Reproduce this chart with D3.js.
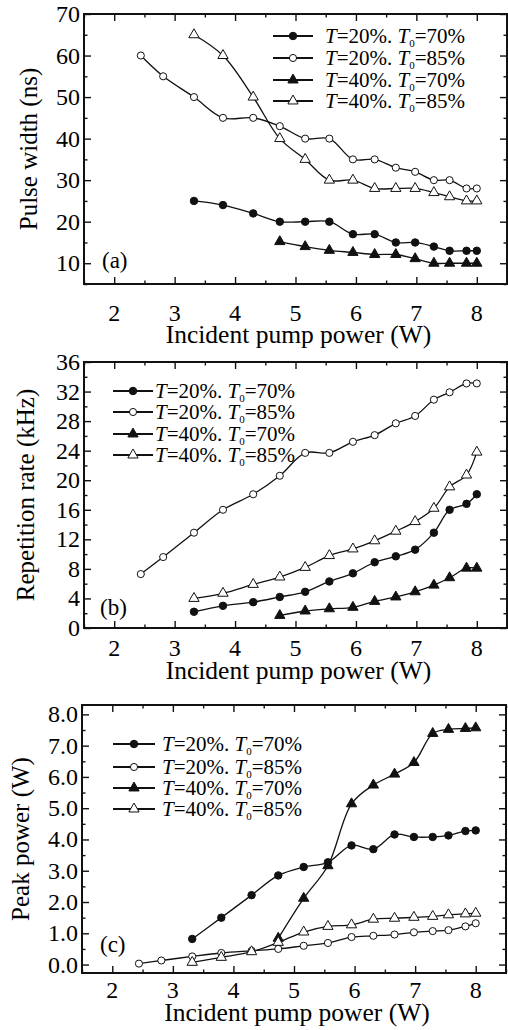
<!DOCTYPE html>
<html>
<head>
<meta charset="utf-8">
<script src="https://cdn.jsdelivr.net/npm/d3@7"></script>
</head>
<body style="margin:0">
<div id="chart"></div>
<script>
// pump power values shared by all panels (W)
const pumpPower = [2.44, 2.81, 3.32, 3.80, 4.30, 4.74, 5.16, 5.56, 5.95, 6.31, 6.66, 6.98, 7.29, 7.55, 7.83, 8.00];
const xTicks = [2, 3, 4, 5, 6, 7, 8];
const xMinor = [1.5, 2.5, 3.5, 4.5, 5.5, 6.5, 7.5, 8.5];

// series legend names: [T, T0]
const seriesNames = [["20", "70"], ["20", "85"], ["40", "70"], ["40", "85"]];
// first index into pumpPower for each series
const seriesStart = [2, 0, 5, 2];

// (a) pulse width (ns)
const pulseT20T70 = [25, 24, 22, 20, 20, 20, 17, 17, 15, 15, 14, 13, 13, 13];
const pulseT20T85 = [60, 55, 50, 45, 45, 43, 40, 40, 35, 35, 33, 32, 30, 30, 28, 28];
const pulseT40T70 = [15.2, 14, 13.1, 12.6, 12.1, 12.1, 11.1, 10, 10, 10, 10];
const pulseT40T85 = [65, 60, 50, 40, 35, 30, 30, 28, 28, 28, 27, 26, 25, 25];
const pulseTicks = [10, 20, 30, 40, 50, 60, 70];

// (b) repetition rate (kHz)
const repT20T70 = [2.2, 3.0, 3.5, 4.2, 4.9, 6.3, 7.4, 8.9, 9.7, 10.6, 12.9, 16.0, 16.8, 18.1];
const repT20T85 = [7.3, 9.6, 12.9, 16.0, 18.1, 20.6, 23.7, 23.7, 25.2, 26.1, 27.7, 28.7, 30.9, 31.9, 33.1, 33.1];
const repT40T70 = [1.7, 2.3, 2.6, 2.8, 3.6, 4.2, 4.9, 5.8, 6.8, 8.1, 8.1];
const repT40T85 = [4.0, 4.7, 5.9, 6.9, 8.2, 9.8, 10.7, 11.8, 13.1, 14.4, 16.2, 19.1, 20.7, 23.8];
const repTicks = [0, 4, 8, 12, 16, 20, 24, 28, 32, 36];

// (c) peak power (W)
const peakT20T70 = [0.82, 1.50, 2.22, 2.85, 3.12, 3.27, 3.81, 3.69, 4.16, 4.08, 4.08, 4.13, 4.27, 4.29];
const peakT20T85 = [0.03, 0.13, 0.26, 0.37, 0.44, 0.50, 0.60, 0.69, 0.88, 0.92, 0.96, 1.03, 1.07, 1.10, 1.22, 1.32];
const peakT40T70 = [0.84, 2.12, 3.16, 5.14, 5.74, 6.09, 6.46, 7.39, 7.52, 7.55, 7.57];
const peakT40T85 = [0.07, 0.23, 0.41, 0.71, 1.04, 1.22, 1.27, 1.45, 1.48, 1.51, 1.54, 1.59, 1.62, 1.64];
const peakTicks = [0, 1, 2, 3, 4, 5, 6, 7, 8];

const FONT = "Liberation Serif";

const svg = d3.select("#chart").append("svg")
  .attr("width", 508)
  .attr("height", 1030);

const panels = [
  {
    box: { left: 84, right: 507, top: 14, bottom: 284 },
    yDomain: [5, 70], yTicks: pulseTicks, yMinorStep: 5, yFormat: d3.format("d"),
    series: [pulseT20T70, pulseT20T85, pulseT40T70, pulseT40T85],
    yTitle: "Pulse width (ns)", yTitleX: 37,
    labelY: 321, xTitleY: 343,
    tag: "(a)", tagPos: [102, 268],
    legend: { x0: 273, x1: 313, tx: 325, rows: [36, 58, 80, 101] }
  },
  {
    box: { left: 84, right: 507, top: 362, bottom: 628 },
    yDomain: [0, 36], yTicks: repTicks, yMinorStep: 2, yFormat: d3.format("d"),
    series: [repT20T70, repT20T85, repT40T70, repT40T85],
    yTitle: "Repetition rate (kHz)", yTitleX: 34,
    labelY: 656, xTitleY: 679,
    tag: "(b)", tagPos: [100, 615],
    legend: { x0: 113, x1: 153, tx: 155, rows: [391, 412, 434, 455] }
  },
  {
    box: { left: 82, right: 506, top: 705, bottom: 973 },
    yDomain: [-0.27, 8.3], yTicks: peakTicks, yMinorStep: 0.5, yFormat: d3.format(".1f"),
    series: [peakT20T70, peakT20T85, peakT40T70, peakT40T85],
    yTitle: "Peak power (W)", yTitleX: 29,
    labelY: 998, xTitleY: 1021,
    tag: "(c)", tagPos: [100, 952],
    legend: { x0: 113, x1: 155, tx: 162, rows: [744, 767, 788, 809] }
  }
];

// marker style per series: filled circle, open circle, filled triangle, open triangle
const markerType = [d3.symbolCircle, d3.symbolCircle, d3.symbolTriangle, d3.symbolTriangle];
const markerSize = [44, 40, 46, 46];
const markerFill = ["#111", "#fff", "#111", "#fff"];

function drawMarker(g, i, x, y) {
  g.append("path")
    .attr("transform", `translate(${x},${y})`)
    .attr("d", d3.symbol().type(markerType[i]).size(markerSize[i])())
    .attr("fill", markerFill[i])
    .attr("stroke", "#111")
    .attr("stroke-width", 1);
}

// plain text helper, family set inline on each element
function addText(x, y, str, size, anchor) {
  return svg.append("text")
    .attr("x", x).attr("y", y)
    .attr("font-size", size)
    .attr("text-anchor", anchor || "start")
    .style("font-family", FONT)
    .text(str);
}

function drawPanel(p) {
  const b = p.box;
  const x = d3.scaleLinear().domain([1.5, 8.5]).range([b.left, b.right]);
  const y = d3.scaleLinear().domain(p.yDomain).range([b.bottom, b.top]);
  const g = svg.append("g");

  const yMinor = d3.range(Math.ceil(p.yDomain[0] / p.yMinorStep) * p.yMinorStep, p.yDomain[1] + 1e-9, p.yMinorStep)
    .filter(v => !p.yTicks.some(t => Math.abs(t - v) < 1e-9));

  // tick marks on all four sides, pointing inward (labels drawn separately)
  const axes = [
    [d3.axisBottom(x).tickValues(xTicks).tickSize(-7), `translate(0,${b.bottom})`],
    [d3.axisBottom(x).tickValues(xMinor).tickSize(-3.5), `translate(0,${b.bottom})`],
    [d3.axisTop(x).tickValues(xTicks).tickSize(-7), `translate(0,${b.top})`],
    [d3.axisTop(x).tickValues(xMinor).tickSize(-3.5), `translate(0,${b.top})`],
    [d3.axisLeft(y).tickValues(p.yTicks).tickSize(-7), `translate(${b.left},0)`],
    [d3.axisLeft(y).tickValues(yMinor).tickSize(-3.5), `translate(${b.left},0)`],
    [d3.axisRight(y).tickValues(p.yTicks).tickSize(-7), `translate(${b.right},0)`],
    [d3.axisRight(y).tickValues(yMinor).tickSize(-3.5), `translate(${b.right},0)`]
  ];
  axes.forEach(([ax, tr]) => {
    const a = g.append("g").attr("transform", tr).call(ax.tickFormat(""));
    a.attr("font-family", null).attr("font-size", null);
    a.select(".domain").remove();
    a.selectAll("text").remove();
    a.selectAll("line").attr("stroke", "#111").attr("stroke-width", 1.4);
  });

  // tick labels
  xTicks.forEach(v => addText(x(v), p.labelY, d3.format("d")(v), 24, "middle"));
  p.yTicks.forEach(v => addText(b.left - 4, y(v) + 8, p.yFormat(v), 24, "end"));

  // frame
  g.append("rect")
    .attr("x", b.left).attr("y", b.top)
    .attr("width", b.right - b.left).attr("height", b.bottom - b.top)
    .attr("fill", "none").attr("stroke", "#111").attr("stroke-width", 2);

  // axis titles
  addText((b.left + b.right) / 2 + 3, p.xTitleY, "Incident pump power (W)", 25.5, "middle");
  addText(0, 0, p.yTitle, 25, "middle")
    .attr("x", null).attr("y", null)
    .attr("transform", `translate(${p.yTitleX},${(b.top + b.bottom) / 2}) rotate(-90)`);

  addText(p.tagPos[0], p.tagPos[1], p.tag, 23);

  // curves + markers
  const line = d3.line()
    .x(d => x(d[0]))
    .y(d => y(d[1]))
    .curve(d3.curveCatmullRom.alpha(0.5));

  p.series.forEach((vals, i) => {
    const pts = vals.map((v, k) => [pumpPower[seriesStart[i] + k], v]);
    g.append("path")
      .attr("d", line(pts))
      .attr("fill", "none")
      .attr("stroke", "#111")
      .attr("stroke-width", 1.3);
    const mg = g.append("g");
    pts.forEach(d => drawMarker(mg, i, x(d[0]), y(d[1])));
  });

  // legend
  const L = p.legend;
  seriesNames.forEach((nm, i) => {
    const ry = L.rows[i];
    g.append("line")
      .attr("x1", L.x0).attr("x2", L.x1)
      .attr("y1", ry).attr("y2", ry)
      .attr("stroke", "#111").attr("stroke-width", 2);
    drawMarker(g, i, (L.x0 + L.x1) / 2, ry);
    const t = addText(L.tx, ry + 7, null, 21);
    t.append("tspan").attr("font-style", "italic").text("T");
    t.append("tspan").text(`=${nm[0]}%. `);
    t.append("tspan").attr("font-style", "italic").text("T");
    t.append("tspan").attr("font-size", 11).attr("dy", 4).text("0");
    t.append("tspan").attr("dy", -4).text(`=${nm[1]}%`);
  });
}

panels.forEach(drawPanel);
</script>
</body>
</html>
